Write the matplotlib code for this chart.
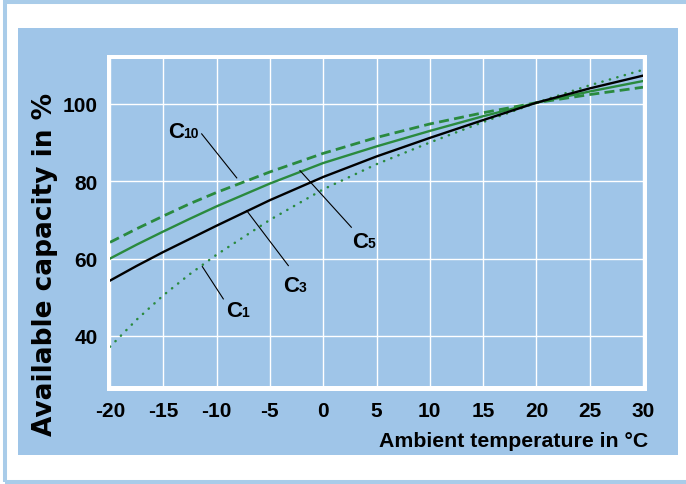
import matplotlib
matplotlib.use("Agg")
import matplotlib.pyplot as plt
from matplotlib import font_manager
from matplotlib.patches import Rectangle
from matplotlib.transforms import offset_copy

# ---- data ----
temps = [-20, -17.5, -15, -12.5, -10, -5, 0, 5, 10, 15, 20, 25, 30]
c10 = [64.2, 67.7, 71.0, 74.2, 77.1, 82.4, 87.2, 91.3, 94.8, 97.7, 100.3, 102.4, 104.3]
c5 = [60.0, 63.6, 67.0, 70.3, 73.5, 79.4, 84.7, 89.0, 93.0, 96.8, 100.3, 103.2, 105.9]
c3 = [54.3, 58.1, 61.7, 65.1, 68.5, 75.1, 81.1, 86.4, 91.2, 95.8, 100.3, 104.0, 107.3]
c1 = [37.2, 44.2, 50.5, 56.0, 61.0, 70.0, 77.9, 84.4, 90.0, 95.3, 100.3, 104.8, 108.8]
x_ticks = [-20, -15, -10, -5, 0, 5, 10, 15, 20, 25, 30]
y_ticks = [40, 60, 80, 100]
xlabel = "Ambient temperature in °C"
ylabel = "Available capacity in %"

BLUE = "#9fc5e8"
GREEN = "#2a8a3e"
BORDER = "#a9cce9"

names = {f.name for f in font_manager.fontManager.ttflist}
narrow = "Liberation Sans Narrow" in names
TICKFONT = ["Liberation Sans Narrow", "Liberation Sans"] if narrow else ["Liberation Sans"]
tick_size = 16.5 if narrow else 15
clab_size = 17 if narrow else 16

W, H = 686, 485
fig = plt.figure(figsize=(W / 100, H / 100), dpi=100)
fig.patch.set_facecolor("white")

def fx(px):
    return px / W

def fy(py):
    return 1 - py / H

# outer thin light-blue border
fig.patches.append(Rectangle((fx(5.3), fy(482.5)), fx(690) - fx(5.3), fy(3) - fy(482.5),
                             transform=fig.transFigure, facecolor="none",
                             edgecolor=BORDER, linewidth=2.9, zorder=0))
# blue panel
fig.patches.append(Rectangle((fx(18), fy(456)), fx(678) - fx(18), fy(29) - fy(456),
                             transform=fig.transFigure, facecolor=BLUE,
                             edgecolor="none", zorder=0.5))
# white frame around plot area
fig.patches.append(Rectangle((fx(107), fy(391.5)), fx(647) - fx(107), fy(56) - fy(391.5),
                             transform=fig.transFigure, facecolor="white",
                             edgecolor="none", zorder=0.8))

ax = fig.add_axes([fx(110), fy(387), fx(643) - fx(110), (387 - 60) / H])
ax.set_zorder(2)
ax.set_facecolor(BLUE)
ax.set_xlim(-20, 30)
ax.set_ylim(27.05, 111.6)
for s in ax.spines.values():
    s.set_visible(False)

ax.set_xticks(x_ticks)
ax.set_yticks(y_ticks)
ax.set_xticklabels([str(t) for t in x_ticks])
ax.set_yticklabels([str(t) for t in y_ticks])
ax.tick_params(axis="both", length=0)
ax.tick_params(axis="x", pad=11.0)
ax.tick_params(axis="y", pad=9.0)
for lab in ax.get_xticklabels() + ax.get_yticklabels():
    lab.set_fontfamily(TICKFONT)
    lab.set_fontweight("bold")
    lab.set_fontsize(tick_size)
    lab.set_color("black")
ax.grid(True, color="white", linewidth=1.0)
ax.set_axisbelow(True)

ax.plot(temps, c10, color=GREEN, linewidth=2.0, linestyle=(0, (3.6, 1.9)), zorder=3)
ax.plot(temps, c5, color=GREEN, linewidth=1.7, zorder=3)
ax.plot(temps, c3, color="black", linewidth=1.7, zorder=4)
ax.plot(temps, c1, color=GREEN, linewidth=1.8, linestyle=(0, (0.1, 3.0)),
        dash_capstyle="round", zorder=3)

# leader lines and curve labels
leaders = [
    ((-11.40, 92.24), (-8.11, 80.86)),
    ((-3.27, 58.18), (-7.18, 72.40)),
    ((-9.37, 49.57), (-11.34, 57.93)),
    ((2.64, 68.10), (-2.18, 82.75)),
]
for (x1, y1), (x2, y2) in leaders:
    ax.plot([x1, x2], [y1, y2], color="black", linewidth=0.8, zorder=5)

labels = [
    (-14.56, 91.47, "10"),
    (-3.77, 51.64, "3"),
    (-9.12, 45.05, "1"),
    (2.70, 63.0, "5"),
]
for x, y, sub in labels:
    ax.text(x, y, "C", fontfamily=TICKFONT, fontweight="bold", fontsize=clab_size,
            ha="left", va="baseline", zorder=6)
    tr = offset_copy(ax.transData, fig=fig, x=15.5, y=0, units="dots")
    ax.text(x, y, sub, transform=tr, fontfamily=["Liberation Sans"], fontweight="bold",
            fontsize=10, ha="left", va="baseline", zorder=6)

fig.text(fx(648), fy(447), xlabel, fontfamily=["Liberation Sans"], fontweight="bold",
         fontsize=15.3, ha="right", va="baseline", zorder=3)
fig.text(fx(51.7), fy(264), ylabel, fontfamily=["DejaVu Sans"], fontweight="bold",
         fontsize=19, rotation=90, rotation_mode="anchor", ha="center", va="baseline",
         zorder=3)

fig.savefig("out.png", dpi=100, facecolor="white")
